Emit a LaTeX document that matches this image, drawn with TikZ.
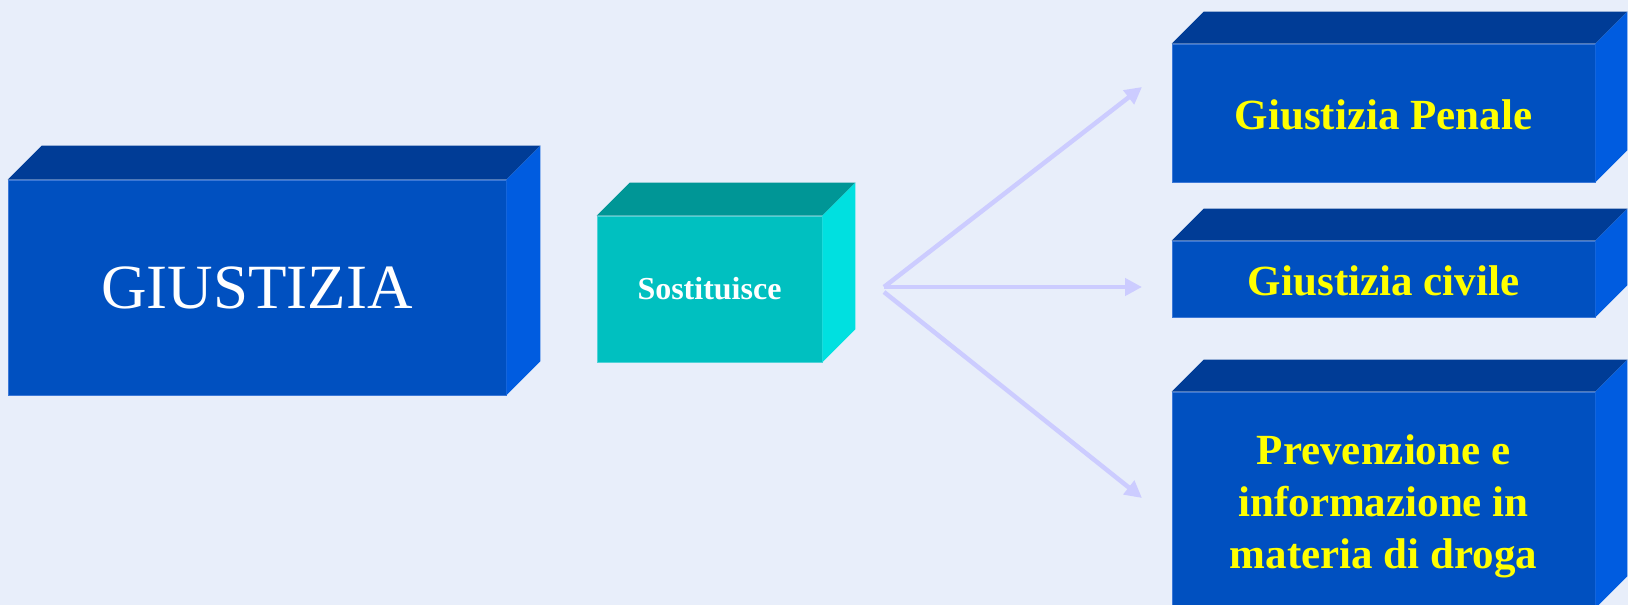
\documentclass[tikz,border=0pt]{standalone}
\usepackage{fontspec}
\setmainfont{Liberation Serif}
\usetikzlibrary{arrows.meta}
\definecolor{bg}{RGB}{232,238,250}
\definecolor{bfront}{RGB}{0,80,192}
\definecolor{btop}{RGB}{0,60,150}
\definecolor{bright}{RGB}{0,92,224}
\definecolor{bedge}{RGB}{60,120,215}
\definecolor{tfront}{RGB}{0,192,192}
\definecolor{ttop}{RGB}{0,150,150}
\definecolor{tright}{RGB}{0,224,224}
\definecolor{tedge}{RGB}{80,210,215}
\definecolor{arrowc}{RGB}{204,204,255}
\definecolor{ytext}{RGB}{255,255,0}
\newcommand\boxsides[4]{%
  \fill[#2] (#1.north west) -- ++(#4,-#4) -- ([shift={(#4,-#4)}]#1.north east) -- (#1.north east) -- cycle;
  \fill[#3] (#1.north east) -- ++(#4,-#4) -- ([shift={(#4,-#4)}]#1.south east) -- (#1.south east) -- cycle;}
\begin{document}
\begin{tikzpicture}[x=1pt,y=-1pt,
  bluebox/.style={fill=bfront, draw=bedge, line width=0.6pt, inner sep=0pt, align=center},
  tealbox/.style={fill=tfront, draw=tedge, line width=0.6pt, inner sep=0pt, align=center},
  conn/.style={draw=arrowc, line width=4.5pt, -{Triangle[length=17pt,width=17pt]}},
  ytxt/.style={text=ytext, font=\bfseries\fontsize{43}{52}\selectfont}]
\useasboundingbox (0,0) rectangle (1628,605);
\clip (0,0) rectangle (1628,605);
\fill[bg] (0,0) rectangle (1628,605);
% left box
\node[bluebox, minimum width=498pt, minimum height=215pt, text=white,
      font=\fontsize{63}{63}\selectfont] (giu) at (257,287.5) {GIUSTIZIA};
\boxsides{giu}{btop}{bright}{34}
% middle box
\node[tealbox, minimum width=225pt, minimum height=146pt, text=white,
      font=\bfseries\fontsize{32}{32}\selectfont] (sos) at (709.5,289) {Sostituisce};
\boxsides{sos}{ttop}{tright}{33}
% right boxes
\node[bluebox, minimum width=423pt, minimum height=138pt,
      label={[name=pent, ytxt, yshift=-2pt]center:Giustizia Penale}] (pen) at (1383.5,113) {};
\boxsides{pen}{btop}{bright}{32}
\node[bluebox, minimum width=423pt, minimum height=76pt,
      label={[name=civt, ytxt, yshift=-2pt]center:Giustizia civile}] (civ) at (1383.5,279) {};
\boxsides{civ}{btop}{bright}{32}
\node[bluebox, minimum width=423pt, minimum height=216pt,
      label={[name=drot, ytxt, align=center, yshift=-6pt]center:Prevenzione e\\informazione in\\materia di droga}] (dro) at (1383.5,500) {};
\boxsides{dro}{btop}{bright}{32}
% connectors
\coordinate (src) at (884,287);
\coordinate (srcb) at (884,292);
\coordinate (t1) at (1142,87);
\coordinate (t2) at (1142,287);
\coordinate (t3) at (1142,498);
\draw[conn] (src) -- (t1);
\draw[conn] (src) -- (t2);
\draw[conn] (srcb) -- (t3);
\end{tikzpicture}
\end{document}
